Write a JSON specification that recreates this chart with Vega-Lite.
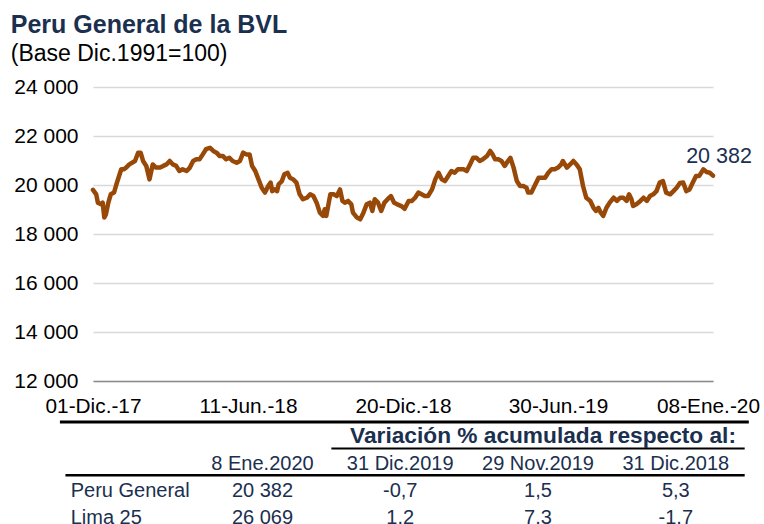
{
  "$schema": "https://vega.github.io/schema/vega-lite/v6.json",
  "background": "white",
  "padding": {"left": 10, "top": 13, "right": 0, "bottom": 0},
  "title": {
    "text": "Peru General de la BVL",
    "subtitle": "(Base Dic.1991=100)",
    "anchor": "start",
    "font": "Liberation Sans",
    "fontSize": 25,
    "fontWeight": "bold",
    "color": "#1b2f4f",
    "subtitleFont": "Liberation Sans",
    "subtitleFontSize": 23,
    "subtitleColor": "#000000",
    "subtitlePadding": 4.5,
    "offset": 10.5,
    "dx": -3
  },
  "config": {
    "view": {"stroke": null},
    "font": "Liberation Sans",
    "locale": {
      "number": {"decimal": ",", "thousands": " ", "grouping": [3], "currency": ["", ""]}
    }
  },
  "spacing": 0,
  "vconcat": [
    {
      "width": 620,
      "height": 294,
      "layer": [
        {
          "data": {
            "values": [
              {"d": "2017-12-01", "v": 19800}, {"d": "2017-12-05", "v": 19620}, {"d": "2017-12-07", "v": 19280},
              {"d": "2017-12-11", "v": 19210}, {"d": "2017-12-13", "v": 19280}, {"d": "2017-12-15", "v": 18670},
              {"d": "2017-12-17", "v": 18800}, {"d": "2017-12-20", "v": 19280}, {"d": "2017-12-23", "v": 19620},
              {"d": "2017-12-27", "v": 19690}, {"d": "2017-12-30", "v": 20030}, {"d": "2018-01-03", "v": 20440},
              {"d": "2018-01-05", "v": 20640}, {"d": "2018-01-08", "v": 20640}, {"d": "2018-01-11", "v": 20710},
              {"d": "2018-01-15", "v": 20840}, {"d": "2018-01-22", "v": 20980}, {"d": "2018-01-26", "v": 21320},
              {"d": "2018-01-29", "v": 21320}, {"d": "2018-02-01", "v": 20980}, {"d": "2018-02-05", "v": 20780},
              {"d": "2018-02-09", "v": 20230}, {"d": "2018-02-13", "v": 20840}, {"d": "2018-02-17", "v": 20710},
              {"d": "2018-02-22", "v": 20710}, {"d": "2018-02-26", "v": 20780}, {"d": "2018-03-02", "v": 20840},
              {"d": "2018-03-06", "v": 20980}, {"d": "2018-03-10", "v": 20840}, {"d": "2018-03-14", "v": 20780},
              {"d": "2018-03-18", "v": 20570}, {"d": "2018-03-22", "v": 20640}, {"d": "2018-03-27", "v": 20570},
              {"d": "2018-03-31", "v": 20710}, {"d": "2018-04-04", "v": 20980}, {"d": "2018-04-08", "v": 21050},
              {"d": "2018-04-12", "v": 21050}, {"d": "2018-04-16", "v": 21250}, {"d": "2018-04-20", "v": 21460},
              {"d": "2018-04-25", "v": 21520}, {"d": "2018-04-29", "v": 21390}, {"d": "2018-05-03", "v": 21320},
              {"d": "2018-05-07", "v": 21180}, {"d": "2018-05-11", "v": 21180}, {"d": "2018-05-15", "v": 21050},
              {"d": "2018-05-19", "v": 21110}, {"d": "2018-05-23", "v": 20980}, {"d": "2018-05-28", "v": 20910},
              {"d": "2018-06-01", "v": 20980}, {"d": "2018-06-05", "v": 21320}, {"d": "2018-06-09", "v": 21250},
              {"d": "2018-06-13", "v": 21250}, {"d": "2018-06-16", "v": 20780}, {"d": "2018-06-20", "v": 20570},
              {"d": "2018-06-24", "v": 20230}, {"d": "2018-06-28", "v": 19890}, {"d": "2018-07-02", "v": 19690},
              {"d": "2018-07-04", "v": 19820}, {"d": "2018-07-06", "v": 19960}, {"d": "2018-07-09", "v": 20100},
              {"d": "2018-07-11", "v": 19750}, {"d": "2018-07-14", "v": 19820}, {"d": "2018-07-17", "v": 19750},
              {"d": "2018-07-19", "v": 20030}, {"d": "2018-07-23", "v": 20160}, {"d": "2018-07-26", "v": 20440},
              {"d": "2018-07-30", "v": 20500}, {"d": "2018-08-02", "v": 20300}, {"d": "2018-08-06", "v": 20230},
              {"d": "2018-08-10", "v": 20100}, {"d": "2018-08-14", "v": 19620}, {"d": "2018-08-18", "v": 19420},
              {"d": "2018-08-23", "v": 19480}, {"d": "2018-08-27", "v": 19620}, {"d": "2018-08-31", "v": 19550},
              {"d": "2018-09-04", "v": 19280}, {"d": "2018-09-08", "v": 18870}, {"d": "2018-09-12", "v": 18740},
              {"d": "2018-09-14", "v": 19010}, {"d": "2018-09-16", "v": 18740}, {"d": "2018-09-21", "v": 19620},
              {"d": "2018-09-25", "v": 19620}, {"d": "2018-09-29", "v": 19550}, {"d": "2018-10-03", "v": 19820},
              {"d": "2018-10-06", "v": 19350}, {"d": "2018-10-09", "v": 19280}, {"d": "2018-10-13", "v": 19350},
              {"d": "2018-10-17", "v": 19210}, {"d": "2018-10-19", "v": 18870}, {"d": "2018-10-24", "v": 18670},
              {"d": "2018-10-28", "v": 18600}, {"d": "2018-11-01", "v": 18870}, {"d": "2018-11-05", "v": 19210},
              {"d": "2018-11-09", "v": 19280}, {"d": "2018-11-12", "v": 18940}, {"d": "2018-11-15", "v": 19420},
              {"d": "2018-11-19", "v": 19280}, {"d": "2018-11-23", "v": 18940}, {"d": "2018-11-27", "v": 19280},
              {"d": "2018-12-01", "v": 19420}, {"d": "2018-12-05", "v": 19550}, {"d": "2018-12-09", "v": 19280},
              {"d": "2018-12-13", "v": 19210}, {"d": "2018-12-18", "v": 19140}, {"d": "2018-12-22", "v": 19030},
              {"d": "2018-12-27", "v": 19350}, {"d": "2018-12-31", "v": 19350}, {"d": "2019-01-04", "v": 19480},
              {"d": "2019-01-08", "v": 19690}, {"d": "2019-01-12", "v": 19620}, {"d": "2019-01-16", "v": 19550},
              {"d": "2019-01-20", "v": 19550}, {"d": "2019-01-25", "v": 19820}, {"d": "2019-01-29", "v": 20230},
              {"d": "2019-02-02", "v": 20500}, {"d": "2019-02-06", "v": 20230}, {"d": "2019-02-10", "v": 20160},
              {"d": "2019-02-14", "v": 20370}, {"d": "2019-02-18", "v": 20570}, {"d": "2019-02-22", "v": 20500},
              {"d": "2019-02-26", "v": 20640}, {"d": "2019-03-05", "v": 20640}, {"d": "2019-03-09", "v": 20570},
              {"d": "2019-03-13", "v": 20840}, {"d": "2019-03-17", "v": 21110}, {"d": "2019-03-21", "v": 21110},
              {"d": "2019-03-25", "v": 20980}, {"d": "2019-03-29", "v": 21050}, {"d": "2019-04-03", "v": 21180},
              {"d": "2019-04-07", "v": 21390}, {"d": "2019-04-10", "v": 21250}, {"d": "2019-04-13", "v": 21050},
              {"d": "2019-04-17", "v": 21050}, {"d": "2019-04-21", "v": 20980}, {"d": "2019-04-25", "v": 20780},
              {"d": "2019-04-29", "v": 20980}, {"d": "2019-05-02", "v": 21110}, {"d": "2019-05-06", "v": 20710},
              {"d": "2019-05-10", "v": 20160}, {"d": "2019-05-14", "v": 19960}, {"d": "2019-05-18", "v": 19960},
              {"d": "2019-05-22", "v": 19890}, {"d": "2019-05-24", "v": 19690}, {"d": "2019-05-28", "v": 19690},
              {"d": "2019-06-02", "v": 20030}, {"d": "2019-06-06", "v": 20300}, {"d": "2019-06-10", "v": 20300},
              {"d": "2019-06-14", "v": 20300}, {"d": "2019-06-18", "v": 20500}, {"d": "2019-06-22", "v": 20640},
              {"d": "2019-06-26", "v": 20640}, {"d": "2019-06-30", "v": 20710}, {"d": "2019-07-04", "v": 20840},
              {"d": "2019-07-06", "v": 20980}, {"d": "2019-07-11", "v": 20710}, {"d": "2019-07-15", "v": 20840},
              {"d": "2019-07-19", "v": 20980}, {"d": "2019-07-23", "v": 20840}, {"d": "2019-07-27", "v": 20640},
              {"d": "2019-07-31", "v": 19960}, {"d": "2019-08-04", "v": 19480}, {"d": "2019-08-09", "v": 19350},
              {"d": "2019-08-13", "v": 19070}, {"d": "2019-08-16", "v": 18940}, {"d": "2019-08-19", "v": 19070},
              {"d": "2019-08-22", "v": 18870}, {"d": "2019-08-25", "v": 18740}, {"d": "2019-08-29", "v": 19070},
              {"d": "2019-09-02", "v": 19280}, {"d": "2019-09-07", "v": 19480}, {"d": "2019-09-11", "v": 19350},
              {"d": "2019-09-15", "v": 19480}, {"d": "2019-09-19", "v": 19480}, {"d": "2019-09-23", "v": 19350},
              {"d": "2019-09-26", "v": 19620}, {"d": "2019-09-29", "v": 19420}, {"d": "2019-10-01", "v": 19140},
              {"d": "2019-10-05", "v": 19210}, {"d": "2019-10-10", "v": 19350}, {"d": "2019-10-14", "v": 19480},
              {"d": "2019-10-18", "v": 19350}, {"d": "2019-10-22", "v": 19550}, {"d": "2019-10-26", "v": 19620},
              {"d": "2019-10-30", "v": 19750}, {"d": "2019-11-03", "v": 20100}, {"d": "2019-11-07", "v": 20160},
              {"d": "2019-11-11", "v": 19690}, {"d": "2019-11-16", "v": 19620}, {"d": "2019-11-20", "v": 19750},
              {"d": "2019-11-24", "v": 19890}, {"d": "2019-11-28", "v": 20080}, {"d": "2019-12-02", "v": 20100},
              {"d": "2019-12-06", "v": 19750}, {"d": "2019-12-10", "v": 19820}, {"d": "2019-12-14", "v": 20100},
              {"d": "2019-12-18", "v": 20370}, {"d": "2019-12-22", "v": 20370}, {"d": "2019-12-27", "v": 20640},
              {"d": "2019-12-31", "v": 20530}, {"d": "2020-01-04", "v": 20500}, {"d": "2020-01-08", "v": 20382}
            ]
          },
          "mark": {"type": "line", "color": "#984807", "strokeWidth": 4.5, "strokeJoin": "round", "strokeCap": "round"},
          "encoding": {
            "x": {
              "field": "d",
              "type": "temporal",
              "scale": {
                "type": "utc",
                "domain": [
                  {"year": 2017, "month": 12, "date": 1, "utc": true},
                  {"year": 2020, "month": 1, "date": 8, "utc": true}
                ]
              },
              "axis": {
                "title": null,
                "values": [
                  {"year": 2017, "month": 12, "date": 1, "utc": true},
                  {"year": 2018, "month": 6, "date": 11, "utc": true},
                  {"year": 2018, "month": 12, "date": 20, "utc": true},
                  {"year": 2019, "month": 6, "date": 30, "utc": true},
                  {"year": 2020, "month": 1, "date": 8, "utc": true}
                ],
                "labelExpr": "utcFormat(datum.value, '%d') + '-' + ['Ene.','Feb.','Mar.','Abr.','May.','Jun.','Jul.','Ago.','Set.','Oct.','Nov.','Dic.'][utcmonth(datum.value)] + '-' + utcFormat(datum.value, '%y')",
                "labelFont": "Liberation Sans",
                "labelFontSize": 20.8,
                "labelColor": "#000000",
                "labelPadding": 15,
                "labelOffset": {"condition": {"test": "utcyear(datum.value) == 2020", "value": -5}, "value": 0},
                "labelOverlap": false,
                "labelFlush": false,
                "ticks": false,
                "grid": false,
                "domainColor": "#8c8c8c",
                "domainWidth": 1.5
              }
            },
            "y": {
              "field": "v",
              "type": "quantitative",
              "scale": {"domain": [12000, 24000], "nice": false, "zero": false},
              "axis": {
                "title": null,
                "values": [12000, 14000, 16000, 18000, 20000, 22000, 24000],
                "format": ",.0f",
                "labelFont": "Liberation Sans",
                "labelFontSize": 21,
                "labelColor": "#000000",
                "labelPadding": 15,
                "ticks": false,
                "domain": false,
                "grid": true,
                "gridColor": "#d9d9d9",
                "gridWidth": 1.5
              }
            }
          }
        },
        {
          "data": {"values": [{"d": "2020-01-08", "v": 20382}]},
          "mark": {"type": "text", "font": "Liberation Sans", "fontSize": 21.5, "color": "#1b2f4f", "align": "center", "baseline": "alphabetic", "dx": 6, "dy": -13},
          "encoding": {
            "x": {"field": "d", "type": "temporal"},
            "y": {"field": "v", "type": "quantitative"},
            "text": {"field": "v", "type": "quantitative", "format": ",.0f"}
          }
        }
      ]
    },
    {
      "width": 620,
      "height": 106.65,
      "layer": [
        {
          "data": {"values": [{"line": "top"}]},
          "mark": {"type": "rule", "color": "#000000", "strokeWidth": 3},
          "encoding": {
            "x": {"datum": -0.47, "type": "quantitative", "scale": {"domain": [-0.23, 4.27], "nice": false, "zero": false}, "axis": null},
            "x2": {"datum": 4.53},
            "y": {"datum": -0.78, "type": "quantitative", "scale": {"domain": [-1, 2.95], "nice": false, "zero": false, "reverse": true}, "axis": null}
          }
        },
        {
          "data": {"values": [{"line": "group"}]},
          "mark": {"type": "rule", "color": "#000000", "strokeWidth": 2},
          "encoding": {
            "x": {"datum": 1.5, "type": "quantitative"},
            "x2": {"datum": 4.5},
            "y": {"datum": 0.2, "type": "quantitative"}
          }
        },
        {
          "data": {"values": [{"line": "header"}]},
          "mark": {"type": "rule", "color": "#000000", "strokeWidth": 2.5},
          "encoding": {
            "x": {"datum": -0.43, "type": "quantitative"},
            "x2": {"datum": 4.5},
            "y": {"datum": 1.19, "type": "quantitative"}
          }
        },
        {
          "data": {"values": [{"r": 0, "c": 3, "t": "Variación % acumulada respecto al:"}]},
          "mark": {"type": "text", "font": "Liberation Sans", "fontSize": 22.7, "fontWeight": "bold", "color": "#1b2f4f", "align": "center", "baseline": "alphabetic", "dx": 5},
          "encoding": {
            "x": {"field": "c", "type": "quantitative"},
            "y": {"field": "r", "type": "quantitative"},
            "text": {"field": "t"}
          }
        },
        {
          "data": {
            "values": [
              {"r": 1, "c": 1, "t": "8 Ene.2020"},
              {"r": 1, "c": 2, "t": "31 Dic.2019"},
              {"r": 1, "c": 3, "t": "29 Nov.2019"},
              {"r": 1, "c": 4, "t": "31 Dic.2018"},
              {"r": 2, "c": 1, "t": "20 382"},
              {"r": 2, "c": 2, "t": "-0,7"},
              {"r": 2, "c": 3, "t": "1,5"},
              {"r": 2, "c": 4, "t": "5,3"},
              {"r": 3, "c": 1, "t": "26 069"},
              {"r": 3, "c": 2, "t": "1.2"},
              {"r": 3, "c": 3, "t": "7.3"},
              {"r": 3, "c": 4, "t": "-1.7"}
            ]
          },
          "mark": {"type": "text", "font": "Liberation Sans", "fontSize": 20, "color": "#1b2f4f", "align": "center", "baseline": "alphabetic"},
          "encoding": {
            "x": {"field": "c", "type": "quantitative"},
            "y": {"field": "r", "type": "quantitative"},
            "text": {"field": "t"}
          }
        },
        {
          "data": {
            "values": [
              {"r": 2, "c": 0, "t": "Peru General"},
              {"r": 3, "c": 0, "t": "Lima 25"}
            ]
          },
          "mark": {"type": "text", "font": "Liberation Sans", "fontSize": 20, "color": "#1b2f4f", "align": "left", "baseline": "alphabetic", "dx": -54},
          "encoding": {
            "x": {"field": "c", "type": "quantitative"},
            "y": {"field": "r", "type": "quantitative"},
            "text": {"field": "t"}
          }
        }
      ]
    }
  ]
}
